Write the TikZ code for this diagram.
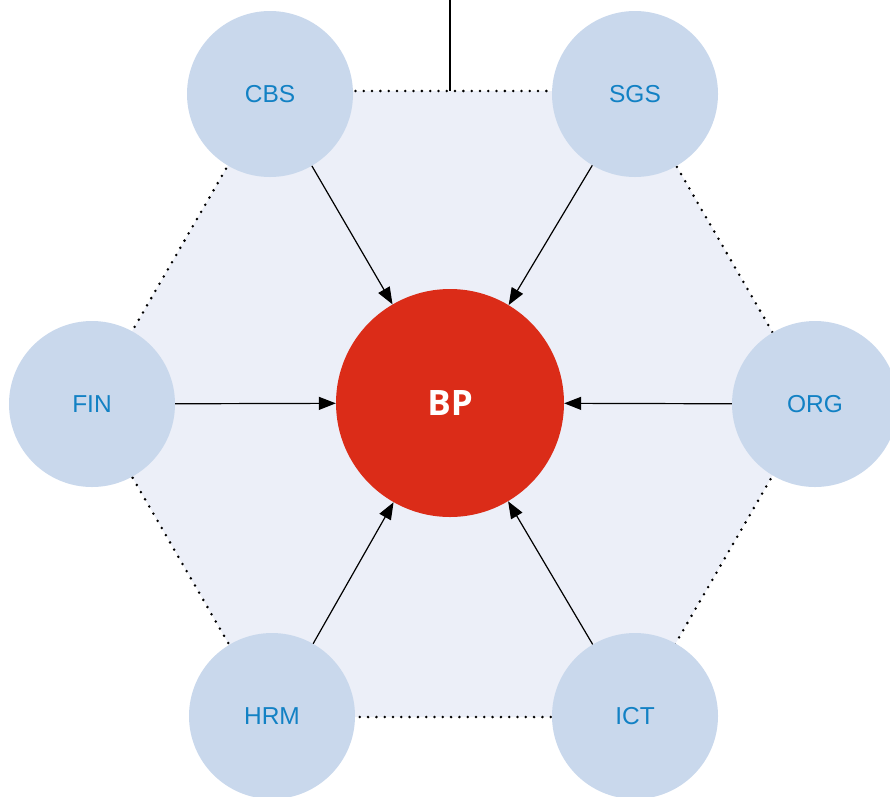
\documentclass[tikz,border=0pt]{standalone}
\usepackage{fontspec}
\newfontfamily\labelfont{Liberation Sans}
\newfontfamily\bpfont{Open Sans}
\usetikzlibrary{arrows.meta}
\definecolor{hexfill}{HTML}{ECEFF8}
\definecolor{circfill}{HTML}{C9D8EC}
\definecolor{labelblue}{HTML}{1281C4}
\definecolor{bpred}{HTML}{DB2C18}
\tikzset{
  outer/.style={circle, fill=circfill, draw=none, minimum size=166pt, inner sep=0pt,
    font=\labelfont\fontsize{24.5}{27}\selectfont, text=labelblue},
  center/.style={circle, fill=bpred, draw=none, minimum size=228pt, inner sep=0pt,
    font=\bpfont\bfseries\fontsize{35}{38}\selectfont, text=white},
  hexedge/.style={draw=black, line width=2.8pt, line cap=round, dash pattern=on 0pt off 8.3pt, fill=hexfill},
  link/.style={draw=black, line width=1.2pt, -{Triangle[length=17pt,width=13pt]}},
  plainlink/.style={draw=black, line width=1.2pt}
}
\begin{document}
\begin{tikzpicture}[x=1pt,y=-1pt]
\useasboundingbox (0,0) rectangle (890,796);
\coordinate (hc) at (452,404);
\coordinate (v0) at (814,404);
\coordinate (v1) at (633,91);
\coordinate (v2) at (271,91);
\coordinate (v3) at (90,404);
\coordinate (v4) at (271,717);
\coordinate (v5) at (633,717);
\path[hexedge] (v0) -- (v1) -- (v2) -- (v3) -- (v4) -- (v5) -- cycle;
\coordinate (topend) at (450,0);
\coordinate (topjoin) at (450,91);
\draw[plainlink] (topend) -- (topjoin);
\node[outer] (cbs) at (270,94) {CBS};
\node[outer] (sgs) at (635,94) {SGS};
\node[outer] (fin) at (92,404) {FIN};
\node[outer] (org) at (815,404) {ORG};
\node[outer] (hrm) at (272,716) {HRM};
\node[outer] (ict) at (635,716) {ICT};
\node[center] (bp) at (450,403) {BP};
\foreach \n in {cbs,sgs,fin,org,hrm,ict}
  \draw[link] (\n) -- (bp);
\end{tikzpicture}
\end{document}
